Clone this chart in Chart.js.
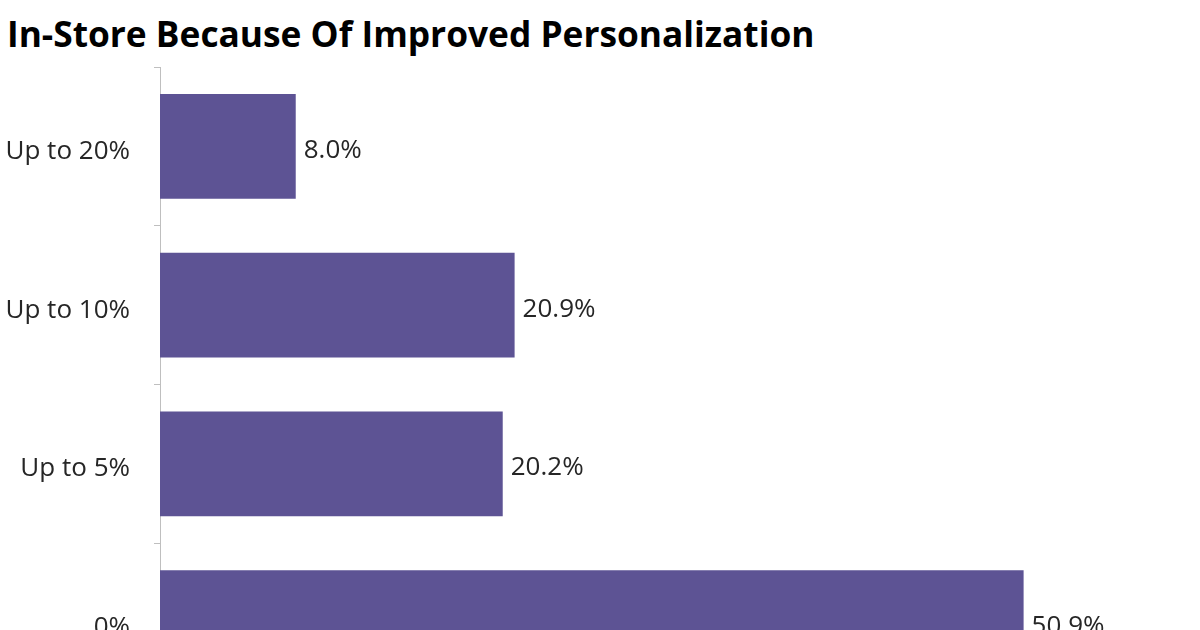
<!DOCTYPE html>
<html>
<head>
<meta charset="utf-8">
<script src="https://cdn.jsdelivr.net/npm/chart.js@4.4.1/dist/chart.umd.min.js"></script>
<style>
  html, body { margin: 0; padding: 0; background: #fff; width: 1200px; height: 630px; overflow: hidden; }
  #title {
    position: absolute; left: 7px; top: 16px; margin: 0;
    font-family: "Open Sans", sans-serif; font-weight: 700; font-size: 36px;
    line-height: 1; color: #000; white-space: nowrap;
    transform-origin: 0 0; transform: scaleX(0.98);
  }
  #chart { position: absolute; left: 0; top: 0; }
</style>
</head>
<body>
<div id="title">In-Store Because Of Improved Personalization</div>
<canvas id="chart" width="1200" height="760"></canvas>
<script>
const categories = ['Up to 20%', 'Up to 10%', 'Up to 5%', '0%'];
const shares = [8.0, 20.9, 20.2, 50.9];
const barColor = '#5d5394';

const valueLabels = {
  id: 'valueLabels',
  afterDatasetsDraw(chart) {
    const ctx = chart.ctx;
    const meta = chart.getDatasetMeta(0);
    ctx.save();
    ctx.font = '26px "Open Sans", sans-serif';
    ctx.fillStyle = '#262626';
    ctx.textAlign = 'left';
    ctx.textBaseline = 'middle';
    meta.data.forEach((bar, i) => {
      ctx.fillText(shares[i].toFixed(1) + '%', bar.x + 8, bar.y + 4);
    });
    ctx.restore();
  }
};

new Chart(document.getElementById('chart').getContext('2d'), {
  type: 'bar',
  data: {
    labels: categories,
    datasets: [{
      data: shares,
      backgroundColor: barColor,
      borderWidth: 0,
      categoryPercentage: 1,
      barPercentage: 0.66
    }]
  },
  options: {
    indexAxis: 'y',
    responsive: false,
    animation: false,
    devicePixelRatio: 1,
    layout: { padding: { top: 67, bottom: 58, left: 0, right: 22 } },
    plugins: { legend: { display: false }, tooltip: { enabled: false } },
    scales: {
      x: { display: false, min: 0, max: 60 },
      y: {
        afterFit(scale) { scale.width = 160; },
        border: { display: true, color: '#bfbfbf', width: 1 },
        grid: { drawOnChartArea: false, drawTicks: true, tickLength: 6, color: '#bfbfbf', offset: true },
        ticks: {
          padding: 24,
          labelOffset: 5,
          color: '#262626',
          font: { family: '"Open Sans", sans-serif', size: 26 }
        }
      }
    }
  },
  plugins: [valueLabels]
});
</script>
</body>
</html>
